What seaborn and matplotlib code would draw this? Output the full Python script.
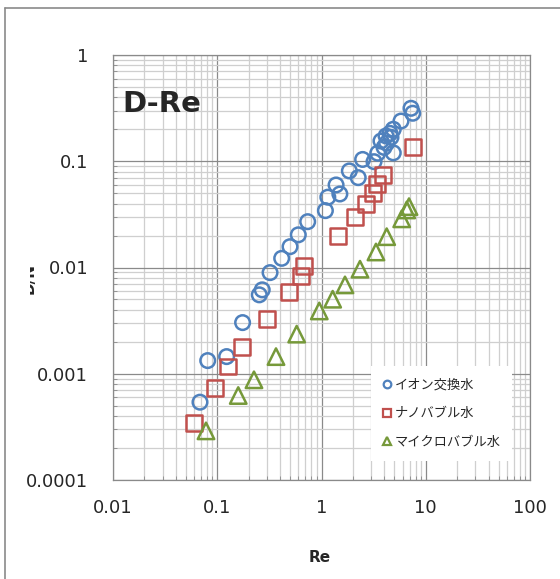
import numpy as np
import pandas as pd
import matplotlib
matplotlib.use("Agg")
import matplotlib.pyplot as plt
import seaborn as sns
from matplotlib.lines import Line2D
from matplotlib.ticker import LogLocator, NullFormatter, FixedLocator, FixedFormatter
from matplotlib.transforms import Bbox

# Dados (Re, D/N)
re_ion = [7.22, 7.50, 5.79, 4.88, 4.54, 4.16, 4.64, 3.72, 4.22, 3.98, 4.88, 3.46,
          2.48, 3.19, 1.85, 2.25, 1.38, 1.50, 1.15, 1.09, 0.737, 0.599, 0.499,
          0.415, 0.321, 0.270, 0.253, 0.175, 0.123, 0.081, 0.0683]
dn_ion = [0.315, 0.283, 0.239, 0.200, 0.183, 0.173, 0.168, 0.155, 0.148, 0.135, 0.120, 0.119,
          0.104, 0.0991, 0.0811, 0.0701, 0.0598, 0.0492, 0.0459, 0.0343, 0.0270, 0.0203, 0.0157,
          0.0122, 0.00895, 0.00616, 0.00553, 0.00303, 0.00145, 0.00133, 0.00054]

re_nano = [7.50, 3.92, 3.43, 3.14, 2.65, 2.10, 1.43, 0.679, 0.636, 0.491, 0.298,
           0.172, 0.126, 0.0951, 0.0603]
dn_nano = [0.137, 0.0743, 0.0608, 0.0500, 0.0394, 0.0301, 0.0198, 0.01035, 0.00834, 0.00593,
           0.00329, 0.00178, 0.00117, 0.00074, 0.000343]

re_micro = [6.91, 6.57, 5.88, 4.22, 3.33, 2.34, 1.68, 1.28, 0.952, 0.578, 0.366,
            0.225, 0.159, 0.078]
dn_micro = [0.0374, 0.0348, 0.0287, 0.0195, 0.0140, 0.00964, 0.00686, 0.00503, 0.0039,
            0.00236, 0.00145, 0.000877, 0.000624, 0.00029]

series_names = ['イオン交換水', 'ナノバブル水', 'マイクロバブル水']
series_colors = ['#4F81BD', '#C0504D', '#76993A']
series_markers = ['o', 's', '^']
series_sizes = [110, 130, 140]

x_ticks = [0.01, 0.1, 1, 10, 100]
x_labels = ['0.01', '0.1', '1', '10', '100']
y_ticks = [0.0001, 0.001, 0.01, 0.1, 1]
y_labels = ['0.0001', '0.001', '0.01', '0.1', '1']

df = pd.concat([
    pd.DataFrame({'Re': re_ion, 'DN': dn_ion, 'tipo': series_names[0]}),
    pd.DataFrame({'Re': re_nano, 'DN': dn_nano, 'tipo': series_names[1]}),
    pd.DataFrame({'Re': re_micro, 'DN': dn_micro, 'tipo': series_names[2]}),
])

sns.set_style('white')
plt.rcParams['font.family'] = ['DejaVu Sans', 'Noto Sans CJK JP']

fig = plt.figure(figsize=(5.6, 5.79), dpi=100)
ax = fig.add_axes([113 / 560, 1 - 480 / 579, 417 / 560, 425 / 579])

for nome, cor, mk, sz in zip(series_names, series_colors, series_markers, series_sizes):
    sub = df[df['tipo'] == nome]
    sns.scatterplot(x=sub['Re'], y=sub['DN'], ax=ax, marker=mk, s=sz,
                    facecolor='none', edgecolor=cor, linewidth=1.8, legend=False, zorder=3)

ax.set_xscale('log')
ax.set_yscale('log')
ax.set_xlim(0.01, 100)
ax.set_ylim(0.0001, 1)

ax.xaxis.set_major_locator(FixedLocator(x_ticks))
ax.xaxis.set_major_formatter(FixedFormatter(x_labels))
ax.yaxis.set_major_locator(FixedLocator(y_ticks))
ax.yaxis.set_major_formatter(FixedFormatter(y_labels))
ax.xaxis.set_minor_locator(LogLocator(base=10, subs=np.arange(2, 10), numticks=20))
ax.yaxis.set_minor_locator(LogLocator(base=10, subs=np.arange(2, 10), numticks=20))
ax.xaxis.set_minor_formatter(NullFormatter())
ax.yaxis.set_minor_formatter(NullFormatter())

# Grade no estilo Excel
ax.grid(which='minor', color='#cfcfcf', linewidth=0.9, zorder=0)
ax.grid(which='major', color='#8a8a8a', linewidth=0.9, zorder=1)
ax.set_axisbelow(True)
for sp in ax.spines.values():
    sp.set_color('#8a8a8a')
    sp.set_linewidth(0.9)

ax.tick_params(axis='x', which='major', direction='in', length=0, pad=14, labelsize=13)
ax.tick_params(axis='y', which='major', direction='in', length=0, pad=18, labelsize=13)
ax.tick_params(which='minor', direction='in', length=3, color='#8a8a8a',
               bottom=True, left=True)

ax.set_xlabel('')
ax.set_ylabel('')
fig.text(320 / 560, 1 - 557 / 579, 'Re', ha='center', va='center',
         fontsize=11, fontweight='bold')

# Rótulo do eixo y cortado, como no original
t = fig.text(37 / 560, 1 - 278 / 579, 'D/N', ha='right', va='center', rotation=90,
             fontsize=11, fontweight='bold')
t.set_clip_box(Bbox.from_extents(30, 0, 560, 579))
t.set_clip_on(True)

ax.text(0.022, 0.866, 'D-Re', transform=ax.transAxes, fontsize=21,
        fontweight='bold', ha='left', va='baseline')

handles = [Line2D([], [], linestyle='none', marker=mk, markersize=5.5,
                  markerfacecolor='none', markeredgecolor=cor, markeredgewidth=1.6)
           for cor, mk in zip(series_colors, series_markers)]
leg = ax.legend(handles, series_names, loc='lower left', bbox_to_anchor=(0.618, 0.045),
                borderaxespad=0, frameon=True, fancybox=False, edgecolor='none',
                facecolor='white', framealpha=1, handlelength=0.6, handletextpad=0.3,
                labelspacing=1.2, borderpad=0.9,
                prop={'family': ['Noto Sans CJK JP', 'DejaVu Sans'], 'size': 9.5})
leg.set_zorder(5)

# Borda externa (superior e esquerda)
fig.add_artist(Line2D([5 / 560, 5 / 560], [0, 1 - 8 / 579], color='#8a8a8a', linewidth=1.2,
                      transform=fig.transFigure))
fig.add_artist(Line2D([5 / 560, 1], [1 - 8 / 579, 1 - 8 / 579], color='#8a8a8a',
                      linewidth=1.2, transform=fig.transFigure))

fig.savefig('out.png', dpi=100)
